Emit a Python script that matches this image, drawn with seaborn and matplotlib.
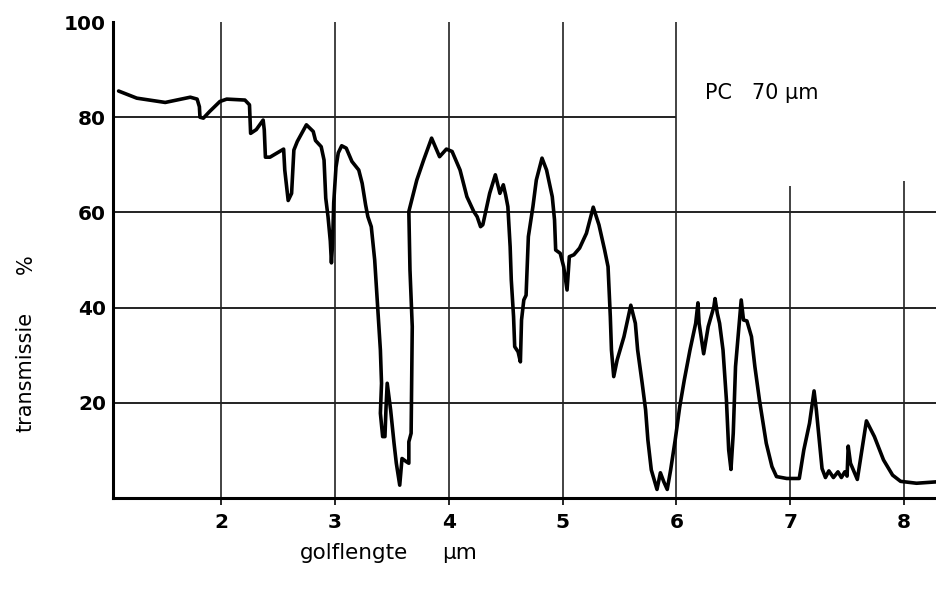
import matplotlib
matplotlib.use("Agg")
import matplotlib.pyplot as plt
import numpy as np
import pandas as pd
import seaborn as sns

sns.set_style("white")
plt.rcParams["font.family"] = ["DejaVu Sans"]
plt.rcParams["text.color"] = "black"
plt.rcParams["xtick.color"] = "black"
plt.rcParams["ytick.color"] = "black"

# IR spectrum of PC film, 70 um
wl = [
    1.10, 1.26, 1.51, 1.61, 1.73, 1.79, 1.81, 1.815, 1.845, 1.90,
    1.99, 2.05, 2.21, 2.25, 2.26, 2.31, 2.37, 2.38, 2.39, 2.43,
    2.55, 2.56, 2.59, 2.62, 2.64, 2.67, 2.75, 2.81, 2.83, 2.88,
    2.905, 2.92, 2.94, 2.96, 2.97, 2.98, 2.99, 3.01, 3.03, 3.06,
    3.10, 3.15, 3.21, 3.24, 3.27, 3.29, 3.32, 3.35, 3.38, 3.40,
    3.41, 3.40, 3.42, 3.44, 3.45, 3.46, 3.49, 3.52, 3.54, 3.57,
    3.59, 3.63, 3.65, 3.65, 3.67, 3.68, 3.66, 3.65, 3.72, 3.78,
    3.85, 3.92, 3.98, 4.03, 4.10, 4.16, 4.22, 4.25, 4.28, 4.30,
    4.36, 4.41, 4.45, 4.48, 4.50, 4.52, 4.54, 4.55, 4.57, 4.58,
    4.61, 4.63, 4.64, 4.66, 4.68, 4.70, 4.74, 4.77, 4.82, 4.86,
    4.91, 4.93, 4.94, 4.98, 5.01, 5.04, 5.06, 5.10, 5.15, 5.21,
    5.27, 5.32, 5.37, 5.40, 5.42, 5.43, 5.45, 5.48, 5.54, 5.60,
    5.64, 5.66, 5.70, 5.73, 5.75, 5.78, 5.83, 5.86, 5.89, 5.92,
    5.95, 5.99, 6.03, 6.07, 6.12, 6.17, 6.19, 6.20, 6.24, 6.28,
    6.33, 6.34, 6.36, 6.38, 6.41, 6.44, 6.46, 6.48, 6.50, 6.52,
    6.57, 6.59, 6.62, 6.66, 6.69, 6.73, 6.79, 6.84, 6.88, 6.97,
    7.08, 7.12, 7.17, 7.21, 7.23, 7.28, 7.31, 7.34, 7.38, 7.42,
    7.45, 7.48, 7.50, 7.51, 7.53, 7.59, 7.63, 7.67, 7.74, 7.82,
    7.90, 7.97, 8.11, 8.29,
]
trans = [
    85.5, 84.0, 83.1, 83.6, 84.2, 83.8, 82.2, 80.0, 79.8, 81.2,
    83.3, 83.8, 83.6, 82.6, 76.6, 77.4, 79.4, 77.3, 71.6, 71.6,
    73.3, 68.9, 62.5, 64.0, 73.1, 74.9, 78.4, 77.0, 75.1, 73.8,
    71.0, 63.0, 59.1, 54.0, 49.4, 53.5, 62.0, 69.5, 72.5, 74.0,
    73.5, 70.7, 68.9, 66.1, 61.6, 59.1, 57.0, 50.0, 38.8, 31.1,
    24.1, 17.8, 12.9, 12.9, 19.2, 24.1, 18.5, 11.5, 7.3, 2.7,
    8.3, 7.6, 7.3, 11.8, 13.6, 36.0, 47.9, 60.2, 66.8, 71.0,
    75.6, 71.7, 73.3, 72.8, 68.9, 63.3, 60.2, 59.1, 57.0, 57.4,
    64.0, 67.9, 64.0, 65.8, 63.7, 61.2, 52.8, 45.8, 38.1, 31.8,
    30.7, 28.6, 37.4, 41.6, 42.6, 54.9, 61.2, 66.8, 71.4, 68.9,
    63.3, 58.4, 52.1, 51.4, 48.6, 43.7, 50.7, 51.1, 52.5, 55.6,
    61.1, 57.4, 52.1, 48.6, 38.1, 31.1, 25.5, 29.0, 33.9, 40.5,
    36.7, 31.1, 24.1, 18.5, 12.2, 5.9, 1.8, 5.3, 3.4, 1.8,
    5.9, 12.2, 19.2, 24.8, 31.1, 36.7, 41.0, 36.7, 30.3, 36.0,
    40.2, 41.9, 38.8, 36.7, 31.1, 20.6, 10.1, 6.0, 13.6, 27.6,
    41.6, 37.4, 37.2, 33.9, 27.6, 20.6, 11.5, 6.6, 4.5, 4.1,
    4.1, 10.1, 15.7, 22.5, 18.5, 6.2, 4.3, 5.7, 4.3, 5.5,
    4.3, 5.5, 4.6, 10.9, 7.3, 3.9, 10.1, 16.2, 12.9, 8.0,
    4.8, 3.5, 3.1, 3.4,
]

xticks = [2, 3, 4, 5, 6, 7, 8]
yticks = [20, 40, 60, 80, 100]
# grid lines on the chart paper and how far each one runs
hgrid = [20, 40, 60, 80]
hgrid_end = [8.29, 8.29, 8.29, 6.0]
vgrid = [2, 3, 4, 5, 6, 7, 8]
vgrid_top = [100, 100, 100, 100, 100, 65.5, 66.6]

df = pd.DataFrame({"wl": wl, "trans": trans})

fig = plt.figure(figsize=(9.37, 5.91), dpi=100)
ax = fig.add_axes([113 / 937, 93 / 591, 824 / 937, 476 / 591])
ax.set_xlim(1.051, 8.29)
ax.set_ylim(0, 100)

ax.hlines(hgrid, 1.051, hgrid_end, color="#222222", lw=1.4, zorder=1)
ax.vlines(vgrid, 0, vgrid_top, color="#222222", lw=1.2, zorder=1)

sns.lineplot(data=df, x="wl", y="trans", sort=False, estimator=None,
             color="black", lw=2.6, ax=ax, zorder=3)

sns.despine(ax=ax)
ax.spines["left"].set_linewidth(2.2)
ax.spines["bottom"].set_linewidth(2.2)
ax.spines["left"].set_color("black")
ax.spines["bottom"].set_color("black")

ax.set_xticks(xticks)
ax.set_yticks(yticks)
ax.tick_params(axis="x", length=5, width=1.2, pad=6, labelsize=14.5,
               direction="out", bottom=True)
ax.tick_params(axis="y", length=0, pad=5, labelsize=14.5)
for lab in ax.get_xticklabels() + ax.get_yticklabels():
    lab.set_fontweight("bold")
ax.set_xlabel("")
ax.set_ylabel("")

fig.text(26 / 937, 1 - 372 / 591, "transmissie", rotation=90, fontsize=15,
         ha="center", va="center")
fig.text(26 / 937, 1 - 264 / 591, "%", rotation=90, fontsize=15,
         ha="center", va="center")
fig.text(354 / 937, 1 - 553 / 591, "golflengte", fontsize=15.5,
         ha="center", va="center")
fig.text(460 / 937, 1 - 553 / 591, "µm", fontsize=15.5,
         ha="center", va="center")
ax.text(6.25, 85.1, "PC   70 µm", fontsize=15, ha="left", va="center")

plt.savefig("out.png", dpi=100)
